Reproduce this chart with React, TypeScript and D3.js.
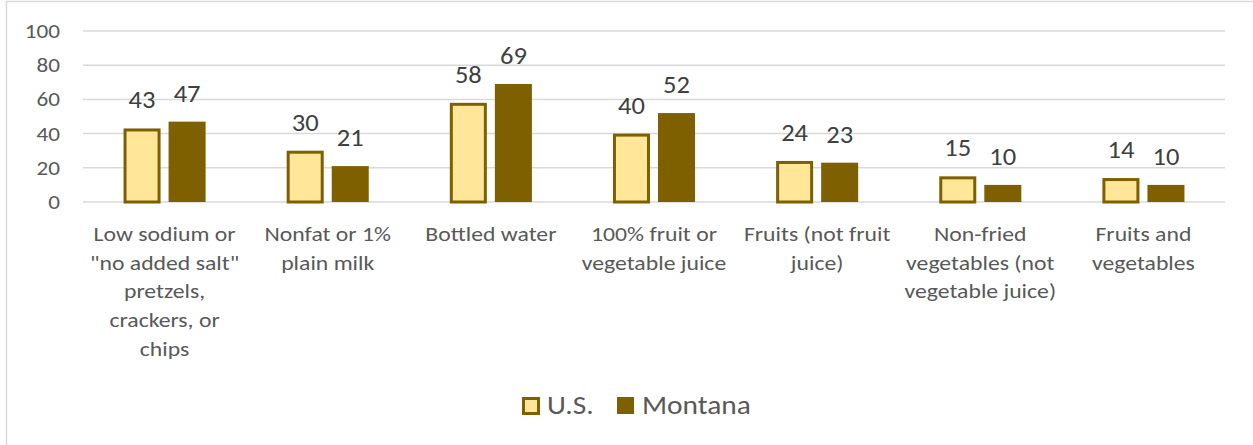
import { useEffect, useRef } from 'react';
import * as d3 from 'd3';

// ── Data ─────────────────────────────────────────────
const CATEGORIES: string[][] = [
  ['Low sodium or', '"no added salt"', 'pretzels,', 'crackers, or', 'chips'],
  ['Nonfat or 1%', 'plain milk'],
  ['Bottled water'],
  ['100% fruit or', 'vegetable juice'],
  ['Fruits (not fruit', 'juice)'],
  ['Non-fried', 'vegetables (not', 'vegetable juice)'],
  ['Fruits and', 'vegetables'],
];
const US_VALUES = [43, 30, 58, 40, 24, 15, 14];
const MONTANA_VALUES = [47, 21, 69, 52, 23, 10, 10];
const SERIES = ['U.S.', 'Montana'];
const Y_TICKS = [0, 20, 40, 60, 80, 100];

const W = 1253;
const H = 445;
const FONT = "Calibri, Carlito, 'Open Sans', sans-serif";
const TEXT = '#595959';
const US_FILL = '#FFE699';
const DARK = '#7F6000';
const SX = 1.13; // le texte de la référence est un peu étiré en largeur

export default function App() {
  const svgRef = useRef<SVGSVGElement | null>(null);

  useEffect(() => {
    const svg = d3.select(svgRef.current);
    svg.selectAll('*').remove();

    const left = 83, right = 1225, top = 31, bottom = 202;
    const at = (x: number, y: number) => `translate(${x},${y}) scale(${SX},1)`;

    // Cadre extérieur (bords droit et bas hors image)
    svg.append('rect')
      .attr('x', 6.5).attr('y', 1.5)
      .attr('width', W).attr('height', H)
      .attr('fill', 'white').attr('stroke', '#d9d9d9').attr('stroke-width', 1.5);

    const x = d3.scaleBand<number>()
      .domain(d3.range(CATEGORIES.length))
      .range([left, right]);
    const inner = d3.scaleBand<number>()
      .domain([0, 1])
      .range([0, x.bandwidth()])
      .paddingInner(0.178)
      .paddingOuter(0.9);
    const y = d3.scaleLinear().domain([0, 100]).range([bottom, top]);

    // Grille
    svg.append('g').selectAll('line')
      .data(Y_TICKS)
      .join('line')
      .attr('x1', left).attr('x2', right)
      .attr('y1', d => y(d)).attr('y2', d => y(d))
      .attr('stroke', '#d9d9d9').attr('stroke-width', 1.5);

    svg.append('g').selectAll('text')
      .data(Y_TICKS)
      .join('text')
      .attr('transform', d => at(60, y(d) + 7))
      .attr('text-anchor', 'end')
      .attr('font-family', FONT)
      .attr('font-size', 20.5)
      .attr('fill', TEXT)
      .text(d => d);

    const seriesData = [US_VALUES, MONTANA_VALUES];

    seriesData.forEach((vals, s) => {
      const g = svg.append('g');
      g.selectAll('rect')
        .data(vals)
        .join('rect')
        .attr('x', (_, i) => x(i)! + inner(s)! + (s === 0 ? 1.5 : 0))
        .attr('y', d => y(d) + (s === 0 ? 1.5 : 0))
        .attr('width', inner.bandwidth() - (s === 0 ? 3 : 0))
        .attr('height', d => bottom - y(d) - (s === 0 ? 1.5 : 0))
        .attr('fill', s === 0 ? US_FILL : DARK)
        .attr('stroke', s === 0 ? DARK : 'none')
        .attr('stroke-width', 3);

      g.selectAll('text')
        .data(vals)
        .join('text')
        .attr('transform', (d, i) => at(x(i)! + inner(s)! + inner.bandwidth() / 2, y(d) - 20))
        .attr('text-anchor', 'middle')
        .attr('font-family', FONT)
        .attr('font-size', 23.5)
        .attr('fill', '#404040')
        .text(d => d);
    });

    // Libellés catégories
    const cat = svg.append('g').selectAll('text')
      .data(CATEGORIES)
      .join('text')
      .attr('transform', (_, i) => at(x(i)! + x.bandwidth() / 2, 241))
      .attr('text-anchor', 'middle')
      .attr('font-family', FONT)
      .attr('font-size', 21)
      .attr('fill', TEXT);
    cat.each(function (lines) {
      d3.select(this).selectAll('tspan')
        .data(lines)
        .join('tspan')
        .attr('x', 0)
        .attr('dy', (_, j) => (j === 0 ? 0 : 28.7))
        .text(d => d);
    });

    // Légende
    const legend = svg.append('g');
    const lx = [522, 617];
    SERIES.forEach((name, s) => {
      legend.append('rect')
        .attr('x', lx[s] + (s === 0 ? 1.5 : 0))
        .attr('y', 397 + (s === 0 ? 1.5 : 0))
        .attr('width', s === 0 ? 15 : 17)
        .attr('height', s === 0 ? 15 : 17)
        .attr('fill', s === 0 ? US_FILL : DARK)
        .attr('stroke', s === 0 ? DARK : 'none')
        .attr('stroke-width', 3);
      legend.append('text')
        .attr('transform', at(lx[s] + 25, 413.5))
        .attr('font-family', FONT)
        .attr('font-size', 26)
        .attr('fill', TEXT)
        .text(name);
    });
  }, []);

  return (
    <div style={{ position: 'fixed', left: 0, top: 0, width: W, height: H, background: 'white' }}>
      <svg ref={svgRef} width={W} height={H} style={{ display: 'block' }} />
    </div>
  );
}
